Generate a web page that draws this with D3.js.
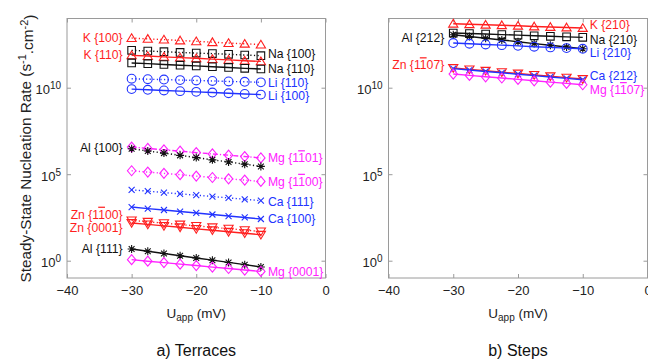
<!DOCTYPE html>
<html>
<head>
<meta charset="utf-8">
<script src="https://cdn.jsdelivr.net/npm/d3@7"></script>
<style>
  html, body { margin: 0; padding: 0; background: #fff; }
  svg { display: block; font-family: "Liberation Sans", Arial, sans-serif; }
</style>
</head>
<body>
<svg id="chart" width="648" height="360"></svg>
<script>
// applied potential (mV), shared by every series
const uapp = [-30, -27.5, -25, -22.5, -20, -17.5, -15, -12.5, -10];

// log10 of steady-state nucleation rate (s^-1.cm^-2)
// a) terraces
const k100   = [12.87, 12.82, 12.78, 12.73, 12.68, 12.63, 12.58, 12.54, 12.49];
const na100  = [12.16, 12.12, 12.08, 12.04, 12.00, 11.97, 11.93, 11.89, 11.85];
const k110   = [11.87, 11.83, 11.78, 11.74, 11.70, 11.65, 11.61, 11.56, 11.52];
const na110  = [11.43, 11.39, 11.34, 11.30, 11.26, 11.21, 11.17, 11.12, 11.08];
const li110  = [10.52, 10.49, 10.47, 10.44, 10.42, 10.39, 10.36, 10.34, 10.31];
const li100  = [9.92, 9.88, 9.84, 9.80, 9.76, 9.72, 9.68, 9.64, 9.60];
const mg1101 = [6.57, 6.49, 6.41, 6.33, 6.25, 6.17, 6.10, 6.02, 5.94];
const al100  = [6.47, 6.34, 6.22, 6.09, 5.96, 5.83, 5.71, 5.58, 5.45];
const mg1100 = [5.20, 5.12, 5.05, 4.97, 4.89, 4.81, 4.73, 4.66, 4.58];
const ca111  = [4.10, 4.02, 3.94, 3.86, 3.79, 3.71, 3.63, 3.55, 3.47];
const ca100  = [3.10, 3.01, 2.93, 2.84, 2.76, 2.67, 2.58, 2.50, 2.41];
const zn1100 = [2.33, 2.25, 2.17, 2.09, 2.01, 1.93, 1.85, 1.77, 1.69];
const zn0001 = [2.18, 2.10, 2.01, 1.93, 1.84, 1.76, 1.67, 1.59, 1.50];
const al111  = [0.68, 0.55, 0.42, 0.29, 0.16, 0.03, -0.10, -0.23, -0.36];
const mg0001 = [0.06, -0.03, -0.11, -0.20, -0.28, -0.37, -0.45, -0.54, -0.62];
// b) steps
const k210   = [13.70, 13.67, 13.64, 13.61, 13.58, 13.54, 13.51, 13.48, 13.45];
const na210  = [13.16, 13.13, 13.10, 13.07, 13.04, 13.00, 12.97, 12.94, 12.91];
const al212  = [13.06, 12.96, 12.86, 12.76, 12.66, 12.55, 12.45, 12.35, 12.25];
const li210  = [12.58, 12.54, 12.50, 12.46, 12.42, 12.37, 12.33, 12.29, 12.25];
const zn1107 = [11.14, 11.06, 10.98, 10.90, 10.82, 10.74, 10.66, 10.58, 10.50];
const ca212  = [11.10, 11.02, 10.94, 10.86, 10.78, 10.70, 10.62, 10.54, 10.46];
const mg1107 = [10.79, 10.71, 10.63, 10.56, 10.48, 10.40, 10.32, 10.25, 10.17];

const xTicks = [-40, -30, -20, -10, 0];
const yTicks = [0, 5, 10];           // exponents
const panelTitles = ["a) Terraces", "b) Steps"];

const RED = "#ff1f1f", BLUE = "#2233ff", MAG = "#ff22ff", BLK = "#111";

// "~" puts an overbar on the next character
const terraces = [
  { name: "K {100}",    vals: k100,   color: RED,  mark: "tri",  dash: "dot",  side: "L", dy: 0 },
  { name: "Na {100}",   vals: na100,  color: BLK,  mark: "sq",   dash: "dot",  side: "R", dy: -1.5 },
  { name: "K {110}",    vals: k110,   color: RED,  mark: "tri",  dash: "solid", side: "L", dy: -1 },
  { name: "Na {110}",   vals: na110,  color: BLK,  mark: "sq",   dash: "solid", side: "R", dy: -0.5 },
  { name: "Li {110}",   vals: li110,  color: BLUE, mark: "circ", dash: "dot",  side: "R", dy: 0.8 },
  { name: "Li {100}",   vals: li100,  color: BLUE, mark: "circ", dash: "solid", side: "R", dy: 1.5 },
  { name: "Mg {1~101}", vals: mg1101, color: MAG,  mark: "dia",  dash: "dashdot", side: "R", dy: 0 },
  { name: "Al {100}",   vals: al100,  color: BLK,  mark: "ast",  dash: "dot",  side: "L", dy: -1 },
  { name: "Mg {1~100}", vals: mg1100, color: MAG,  mark: "dia",  dash: "dot",  side: "R", dy: 0 },
  { name: "Ca {111}",   vals: ca111,  color: BLUE, mark: "x",    dash: "dot",  side: "R", dy: 1 },
  { name: "Ca {100}",   vals: ca100,  color: BLUE, mark: "x",    dash: "solid", side: "R", dy: 0 },
  { name: "Zn {1~100}", vals: zn1100, color: RED,  mark: "tri-d", dash: "dot", side: "L", dy: -6 },
  { name: "Zn {0001}",  vals: zn0001, color: RED,  mark: "tri-d", dash: "solid", side: "L", dy: 5 },
  { name: "Al {111}",   vals: al111,  color: BLK,  mark: "ast",  dash: "solid", side: "L", dy: 0 },
  { name: "Mg {0001}",  vals: mg0001, color: MAG,  mark: "dia",  dash: "solid", side: "R", dy: 0 }
];

const steps = [
  { name: "K {210}",    vals: k210,   color: RED,  mark: "tri",  dash: "solid", side: "R", dy: -3 },
  { name: "Na {210}",   vals: na210,  color: BLK,  mark: "sq",   dash: "solid", side: "R", dy: 2 },
  { name: "Al {212}",   vals: al212,  color: BLK,  mark: "ast",  dash: "solid", side: "L", dy: 3 },
  { name: "Li {210}",   vals: li210,  color: BLUE, mark: "circ", dash: "solid", side: "R", dy: 4 },
  { name: "Zn {1~107}", vals: zn1107, color: RED,  mark: "tri-d", dash: "solid", side: "L", dy: -3 },
  { name: "Ca {212}",   vals: ca212,  color: BLUE, mark: "x",    dash: "solid", side: "R", dy: -4 },
  { name: "Mg {1~107}", vals: mg1107, color: MAG,  mark: "dia",  dash: "solid", side: "R", dy: 5 }
];

const svg = d3.select("#chart");
const plotTop = 18.5, plotBottom = 278;

const y = d3.scaleLog().domain([1e-1, 1e14]).range([plotBottom, plotTop]);

const dashes = { solid: null, dot: "1.2,2.4", dashdot: "5,2,1.2,2" };

function markerPath(type) {
  const p = d3.path();
  if (type === "tri") {
    p.moveTo(0, -4.3); p.lineTo(4.6, 3.4); p.lineTo(-4.6, 3.4); p.closePath();
  } else if (type === "tri-d") {
    p.moveTo(0, 4.3); p.lineTo(4.6, -3.4); p.lineTo(-4.6, -3.4); p.closePath();
  } else if (type === "sq") {
    p.rect(-3.8, -3.8, 7.6, 7.6);
  } else if (type === "circ") {
    p.arc(0, 0, 4.4, 0, 2 * Math.PI);
  } else if (type === "dia") {
    p.moveTo(0, -5); p.lineTo(4.2, 0); p.lineTo(0, 5); p.lineTo(-4.2, 0); p.closePath();
  } else if (type === "x") {
    p.moveTo(-3, -3); p.lineTo(3, 3); p.moveTo(-3, 3); p.lineTo(3, -3);
  } else if (type === "ast") {
    p.moveTo(-4, 0); p.lineTo(4, 0);
    p.moveTo(0, -4); p.lineTo(0, 4);
    p.moveTo(-2.9, -2.9); p.lineTo(2.9, 2.9);
    p.moveTo(-2.9, 2.9); p.lineTo(2.9, -2.9);
  }
  return p.toString();
}

function addLabel(g, text, x, yy, anchor, color) {
  const t = g.append("text")
    .attr("x", x).attr("y", yy).attr("dy", "0.35em")
    .attr("text-anchor", anchor)
    .attr("fill", color)
    .style("font-size", "12.2px");
  const parts = text.split("~");
  t.append("tspan").text(parts[0]);
  for (let i = 1; i < parts.length; i++) {
    t.append("tspan").style("text-decoration", "overline").text(parts[i][0]);
    t.append("tspan").text(parts[i].slice(1));
  }
}

function drawPanel(series, left, right, title, showYLabel) {
  const x = d3.scaleLinear().domain([-40, 0]).range([left, right]);
  const g = svg.append("g");

  // box
  g.append("rect")
    .attr("x", left).attr("y", plotTop)
    .attr("width", right - left).attr("height", plotBottom - plotTop)
    .attr("fill", "none").attr("stroke", "#9a9a9a").attr("stroke-width", 1);

  // axes with inward ticks
  const styleAxis = a => {
    a.select(".domain").remove();
    a.selectAll(".tick line").attr("stroke", "#9a9a9a");
    a.selectAll("text").attr("fill", "#222").style("font-size", "13px")
      .style("font-family", "'Liberation Sans', Arial, sans-serif");
  };
  g.append("g").attr("transform", `translate(0,${plotBottom})`)
    .call(d3.axisBottom(x).tickValues(xTicks).tickSize(-4).tickPadding(8))
    .call(styleAxis);
  g.append("g").attr("transform", `translate(0,${plotTop})`)
    .call(d3.axisTop(x).tickValues(xTicks).tickSize(-4).tickFormat(""))
    .call(styleAxis);
  const yl = g.append("g").attr("transform", `translate(${left},0)`)
    .call(d3.axisLeft(y).tickValues(yTicks.map(e => Math.pow(10, e))).tickSize(-4).tickPadding(6).tickFormat(""))
    .call(styleAxis);
  yl.selectAll(".tick text").each(function (d) {
    const t = d3.select(this).attr("dy", "0.45em");
    t.append("tspan").text("10");
    t.append("tspan").attr("dy", "-0.5em").style("font-size", "10px").text(Math.round(Math.log10(d)));
  });
  g.append("g").attr("transform", `translate(${right},0)`)
    .call(d3.axisRight(y).tickValues(yTicks.map(e => Math.pow(10, e))).tickSize(-4).tickFormat(""))
    .call(styleAxis);

  // series
  const line = d3.line().x((d, i) => x(uapp[i])).y(d => y(Math.pow(10, d)));
  series.forEach(s => {
    const sg = g.append("g");
    sg.append("path")
      .attr("d", line(s.vals))
      .attr("fill", "none")
      .attr("stroke", s.color)
      .attr("stroke-width", 1.4)
      .attr("stroke-dasharray", dashes[s.dash]);
    sg.selectAll("path.m").data(s.vals).join("path")
      .attr("class", "m")
      .attr("d", markerPath(s.mark))
      .attr("transform", (d, i) => `translate(${x(uapp[i])},${y(Math.pow(10, d))})`)
      .attr("fill", "none")
      .attr("stroke", s.color)
      .attr("stroke-width", 1.1);
    if (s.side === "L") {
      addLabel(g, s.name, x(uapp[0]) - 9, y(Math.pow(10, s.vals[0])) + s.dy, "end", s.color);
    } else {
      const n = s.vals.length - 1;
      addLabel(g, s.name, x(uapp[n]) + 7, y(Math.pow(10, s.vals[n])) + s.dy, "start", s.color);
    }
  });

  // x label
  const cx = (left + right) / 2;
  const xl = g.append("text")
    .attr("x", cx).attr("y", 318)
    .attr("text-anchor", "middle")
    .attr("fill", "#222")
    .style("font-size", "13.5px");
  xl.append("tspan").text("U");
  xl.append("tspan").attr("dy", "0.3em").style("font-size", "10px").text("app");
  xl.append("tspan").attr("dy", "-0.22em").text(" (mV)");

  g.append("text")
    .attr("x", cx).attr("y", 356)
    .attr("text-anchor", "middle")
    .attr("fill", "#111")
    .style("font-size", "16px")
    .text(title);

  if (showYLabel) {
    const t = g.append("text")
      .attr("transform", `translate(31,148.5) rotate(-90)`)
      .attr("text-anchor", "middle")
      .attr("fill", "#222")
      .style("font-size", "15.3px");
    t.append("tspan").text("Steady-State Nucleation Rate (s");
    t.append("tspan").attr("dy", "-0.5em").style("font-size", "11px").text("-1");
    t.append("tspan").attr("dy", "0.5em").text(".cm");
    t.append("tspan").attr("dy", "-0.5em").style("font-size", "11px").text("-2");
    t.append("tspan").attr("dy", "0.5em").text(")");
  }
}

drawPanel(terraces, 67, 325.5, panelTitles[0], true);
drawPanel(steps, 388.5, 647.5, panelTitles[1], false);
</script>
</body>
</html>
